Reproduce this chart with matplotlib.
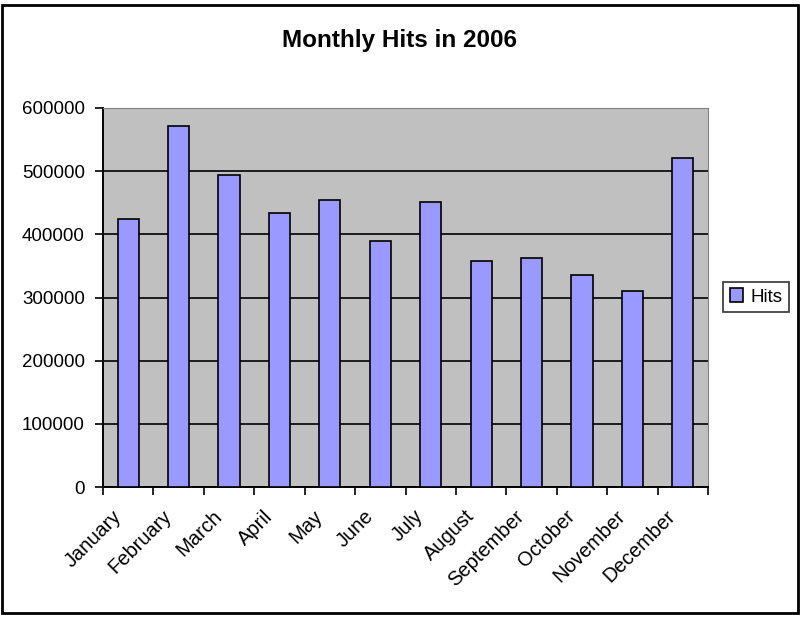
import matplotlib.pyplot as plt
import matplotlib.transforms as mtransforms
from matplotlib.patches import Rectangle

months = ['January', 'February', 'March', 'April', 'May', 'June',
          'July', 'August', 'September', 'October', 'November', 'December']
hits = [425000, 571000, 494000, 433000, 455000, 390000,
        451000, 358000, 363000, 336000, 311000, 521000]
y_ticks = [0, 100000, 200000, 300000, 400000, 500000, 600000]

plt.rcParams['font.family'] = ['Liberation Sans', 'DejaVu Sans']

W, H = 800, 619
fig = plt.figure(figsize=(W / 100, H / 100), dpi=100)

# outer chart frame
fig.patches.append(Rectangle((2 / W, 1 - 613 / H), 796 / W, 608 / H,
                             transform=fig.transFigure, fill=False,
                             edgecolor='black', linewidth=2))

left, right, top, bottom = 103, 708, 108, 487
ax = fig.add_axes([left / W, 1 - bottom / H, (right - left) / W, (bottom - top) / H])
ax.set_facecolor('#C0C0C0')

x = list(range(len(months)))
ax.bar(x, hits, width=0.42, color='#9999FF', edgecolor='black',
       linewidth=1.2, label='Hits', zorder=3)

ax.set_xlim(-0.5, len(months) - 0.5)
ax.set_ylim(0, 600000)
ax.set_yticks(y_ticks)
ax.set_yticklabels([str(v) for v in y_ticks], fontsize=13.5)
ax.yaxis.grid(True, color='black', linewidth=1.2, zorder=1)

# ticks at category boundaries, labels at the centres
ax.set_xticks([i - 0.5 for i in range(len(months) + 1)])
ax.set_xticklabels([])
ax.set_xticks(x, minor=True)
ax.set_xticklabels(months, minor=True, rotation=45, ha='right', va='center',
                   rotation_mode='anchor', fontsize=14.5)
ax.tick_params(axis='x', which='minor', length=0, pad=19)
ax.tick_params(axis='x', which='major', length=6, width=1.2)
ax.tick_params(axis='y', length=6, width=1.2, pad=7)

# nudge month labels a little to the left
shift = mtransforms.ScaledTranslation(-10 / 100, 0, fig.dpi_scale_trans)
for lbl in ax.get_xticklabels(minor=True):
    lbl.set_transform(lbl.get_transform() + shift)

for side in ['left', 'bottom']:
    ax.spines[side].set_linewidth(1.4)
for side in ['top', 'right']:
    ax.spines[side].set_color('#808080')

fig.text(400 / W, 1 - 40 / H, 'Monthly Hits in 2006', ha='center', va='center',
         fontsize=17.5, fontweight='bold')

leg = fig.legend(loc='center', bbox_to_anchor=(756 / W, 1 - 297 / H),
                 fontsize=13.5, frameon=True, fancybox=False, edgecolor='black',
                 handlelength=0.7, handleheight=0.7, handletextpad=0.4,
                 borderpad=0.35)
leg.get_frame().set_linewidth(1.2)

fig.savefig('out.png', dpi=100)
